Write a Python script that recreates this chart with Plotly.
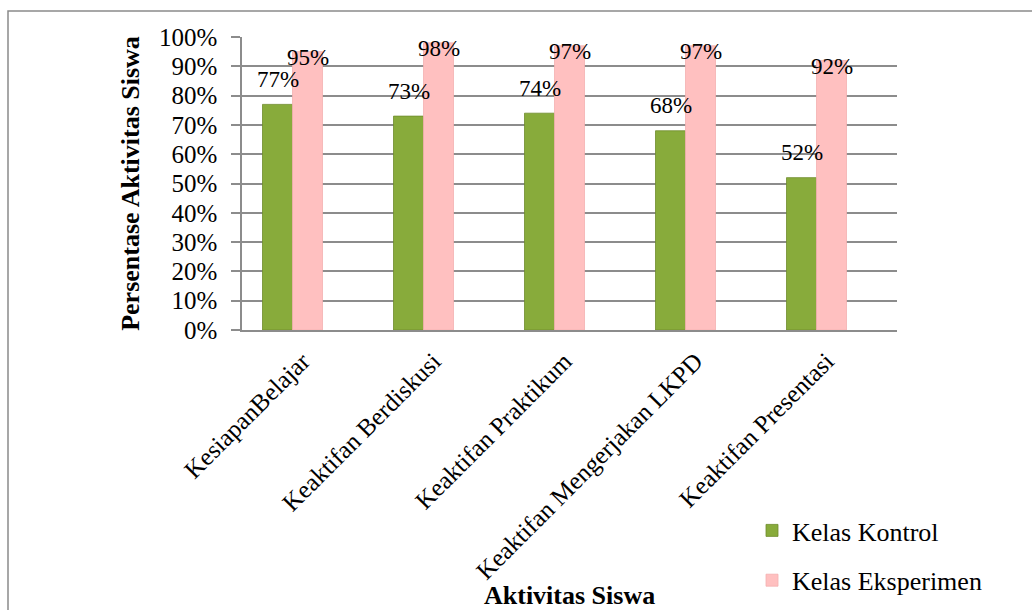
import plotly.graph_objects as go

categories = ["KesiapanBelajar", "Keaktifan Berdiskusi", "Keaktifan Praktikum",
              "Keaktifan Mengerjakan LKPD", "Keaktifan Presentasi"]
kontrol = [0.77, 0.73, 0.74, 0.68, 0.52]
eksperimen = [0.95, 0.98, 0.97, 0.97, 0.92]
series_names = ["Kelas Kontrol", "Kelas Eksperimen"]
y_ticks = [i / 10 for i in range(11)]

W, H = 1032, 610
L, R, T, B = 242, 135, 37, 280
pw = W - L - R
ph = H - T - B
cat_px = pw / len(categories)
bar_px = 30
bw = bar_px / cat_px

FONT = "Liberation Serif, Times New Roman, serif"
GREEN = "#88ab3b"
PINK = "#ffc0c0"
GRID = "#8c8c8c"

fig = go.Figure()
fig.add_trace(go.Bar(
    x=categories, y=kontrol, name=series_names[0],
    width=bw, offset=-1.5 * bw,
    marker=dict(color=GREEN, line=dict(color="#6f8c2c", width=0.8)),
    legendgroup="a",
))
fig.add_trace(go.Bar(
    x=categories, y=eksperimen, name=series_names[1],
    width=bw, offset=-0.5 * bw,
    marker=dict(color=PINK, line=dict(color="#f4b0b0", width=0.8)),
    legendgroup="b",
))

ann = []
for c, v in zip(categories, kontrol):
    ann.append(dict(x=c, y=v, xref="x", yref="y", text=f"{round(v*100)}%",
                    showarrow=False, xshift=-bar_px, yshift=25,
                    font=dict(family=FONT, size=23, color="black")))
for c, v in zip(categories, eksperimen):
    ann.append(dict(x=c, y=v, xref="x", yref="y", text=f"{round(v*100)}%",
                    showarrow=False, xshift=0, yshift=-6,
                    font=dict(family=FONT, size=23, color="black")))


def px_x(p):
    return (p - L) / pw


def px_y(p):
    return (T + ph - p) / ph


ann.append(dict(x=0.5, y=px_y(612), xref="paper", yref="paper",
                yanchor="bottom", xanchor="center",
                text="<b>Aktivitas Siswa</b>", showarrow=False,
                font=dict(family=FONT, size=26, color="black")))

fig.update_layout(
    width=W, height=H,
    margin=dict(l=L, r=R, t=T, b=B, autoexpand=False),
    paper_bgcolor="white", plot_bgcolor="white",
    font=dict(family=FONT, color="black"),
    barmode="overlay",
    showlegend=True,
    legend=dict(x=px_x(752), y=px_y(507), xanchor="left", yanchor="top",
                font=dict(family=FONT, size=26, color="black"),
                traceorder="grouped", tracegroupgap=13,
                bgcolor="rgba(0,0,0,0)"),
    annotations=ann,
    shapes=[dict(type="rect", xref="paper", yref="paper",
                 x0=px_x(8), x1=px_x(1045), y0=px_y(11), y1=px_y(625),
                 line=dict(color="#8a8a8a", width=1.5), layer="below")],
    xaxis=dict(
        type="category", range=[-0.5, len(categories) - 0.5],
        showline=True, linecolor=GRID, linewidth=1.5,
        ticks="", tickangle=-45,
        ticklabelstandoff=5, ticklabelshift=-5,
        tickfont=dict(family=FONT, size=25, color="black"),
        showgrid=False,
    ),
    yaxis=dict(
        range=[0, 1], tickvals=y_ticks, tickformat=".0%",
        showgrid=True, gridcolor=GRID, gridwidth=1.5,
        showline=True, linecolor=GRID, linewidth=1.5,
        ticks="outside", ticklen=9, tickcolor=GRID, tickwidth=1.5,
        ticklabelstandoff=9,
        zeroline=False,
        tickfont=dict(family=FONT, size=25, color="black"),
        title=dict(text="<b>Persentase Aktivitas Siswa</b>", standoff=12,
                   font=dict(family=FONT, size=26, color="black")),
    ),
)

fig.write_html("out.html")
